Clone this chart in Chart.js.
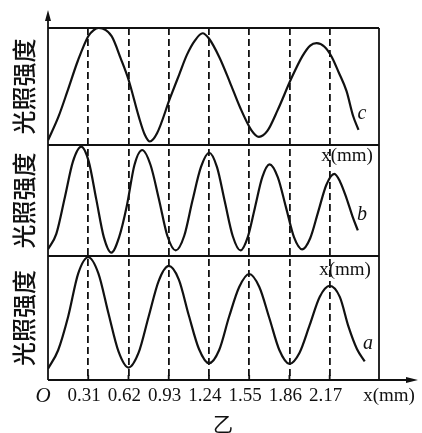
<!DOCTYPE html>
<html>
<head>
<meta charset="utf-8">
<script src="https://cdn.jsdelivr.net/npm/chart.js@4.4.0/dist/chart.umd.min.js"></script>
<style>
  html, body { margin: 0; padding: 0; background: #fff; }
  #wrap { width: 422px; height: 433px; position: relative; }
</style>
</head>
<body>
<div id="wrap"><canvas id="cv" width="422" height="433"></canvas></div>
<script>
// Positions of the marked fringe spacings along x (mm)
const tickValues = [0.31, 0.62, 0.93, 1.24, 1.55, 1.86, 2.17];
const tickLabels = ['0.31', '0.62', '0.93', '1.24', '1.55', '1.86', '2.17'];

// Curve a (bottom panel): x in mm, relative light intensity
const xA = [0, 0.078, 0.155, 0.233, 0.31, 0.388, 0.465, 0.543, 0.62, 0.698, 0.775, 0.853, 0.93,
            1.008, 1.085, 1.163, 1.24, 1.318, 1.395, 1.473, 1.55, 1.628, 1.705, 1.783, 1.86,
            1.938, 2.015, 2.093, 2.17, 2.248, 2.315, 2.38, 2.44];
const yA = [0.09, 0.24, 0.51, 0.86, 0.99, 0.86, 0.54, 0.23, 0.10, 0.22, 0.51, 0.80, 0.92,
            0.81, 0.52, 0.25, 0.135, 0.24, 0.51, 0.75, 0.855, 0.75, 0.50, 0.24, 0.13,
            0.22, 0.44, 0.67, 0.76, 0.67, 0.43, 0.25, 0.15];

// Curve b (middle panel)
const xB = [0, 0.064, 0.13, 0.192, 0.256, 0.314, 0.372, 0.43, 0.488, 0.548, 0.607, 0.666, 0.726,
            0.79, 0.855, 0.92, 0.984, 1.049, 1.113, 1.178, 1.242, 1.302, 1.362, 1.423, 1.483,
            1.539, 1.595, 1.651, 1.707, 1.77, 1.833, 1.895, 1.958, 2.02, 2.082, 2.144, 2.206,
            2.25, 2.30, 2.345, 2.387];
const yB = [0.06, 0.20, 0.53, 0.85, 0.985, 0.85, 0.51, 0.17, 0.03, 0.17, 0.45, 0.82, 0.955,
            0.82, 0.51, 0.18, 0.05, 0.18, 0.50, 0.80, 0.93, 0.80, 0.49, 0.18, 0.05,
            0.17, 0.44, 0.71, 0.825, 0.71, 0.44, 0.17, 0.06, 0.16, 0.40, 0.64, 0.74,
            0.67, 0.52, 0.36, 0.23];

// Curve c (top panel)
const xC = [0, 0.08, 0.15, 0.23, 0.31, 0.35, 0.39, 0.49, 0.56, 0.62, 0.70, 0.745, 0.785,
            0.84, 0.94, 1.01, 1.07, 1.13, 1.191, 1.24, 1.32, 1.40, 1.48, 1.565, 1.625,
            1.69, 1.77, 1.875, 1.96, 2.02, 2.069, 2.13, 2.185, 2.24, 2.30, 2.35, 2.392];
const yC = [0.04, 0.24, 0.46, 0.72, 0.93, 0.98, 1.0, 0.93, 0.74, 0.56, 0.24, 0.09, 0.03,
            0.10, 0.40, 0.60, 0.77, 0.89, 0.955, 0.91, 0.75, 0.54, 0.32, 0.13, 0.07,
            0.12, 0.30, 0.57, 0.76, 0.85, 0.87, 0.84, 0.755, 0.62, 0.46, 0.25, 0.13];

const panelNames = ['a', 'b', 'c'];
const axisTitle = '光照强度';
const unitLabel = 'x(mm)';
const originLabel = 'O';
const figureLabel = '乙';

const INK = '#111';
const pts = (xs, ys) => xs.map((x, i) => ({ x: x, y: ys[i] }));

const curveStyle = {
  borderColor: INK,
  borderWidth: 2.2,
  pointRadius: 0,
  fill: false,
  cubicInterpolationMode: 'monotone',
  xAxisID: 'x'
};

function panelAxis(weight) {
  return {
    type: 'linear',
    position: 'left',
    stack: 'panels',
    stackWeight: weight,
    min: 0,
    max: 1,
    ticks: { display: false },
    grid: { display: false, drawTicks: false },
    border: { display: false },
    title: {
      display: true,
      text: axisTitle,
      color: INK,
      font: { family: '"Noto Sans CJK SC"', size: 24, lineHeight: 1, weight: '500' },
      padding: { top: 12, bottom: 12 }
    }
  };
}

// Frame, axis arrows and the in-figure annotations
const framePlugin = {
  id: 'frame',
  afterDraw(chart) {
    const ctx = chart.ctx;
    const ca = chart.chartArea;
    const s = chart.scales;
    const line = (x1, y1, x2, y2) => { ctx.beginPath(); ctx.moveTo(x1, y1); ctx.lineTo(x2, y2); ctx.stroke(); };
    ctx.save();
    ctx.strokeStyle = INK;
    ctx.fillStyle = INK;
    ctx.lineWidth = 1.8;
    ctx.setLineDash([]);

    // panel borders
    [s.yC, s.yB, s.yA].forEach(sc => line(ca.left, sc.top, ca.right, sc.top));
    line(ca.right, ca.top, ca.right, ca.bottom);

    // vertical axis with arrow
    line(ca.left, ca.bottom, ca.left, 18);
    ctx.beginPath();
    ctx.moveTo(ca.left, 10);
    ctx.lineTo(ca.left - 3, 21);
    ctx.lineTo(ca.left + 3, 21);
    ctx.closePath();
    ctx.fill();

    // horizontal axis with arrow
    line(ca.left, ca.bottom, 410, ca.bottom);
    ctx.beginPath();
    ctx.moveTo(418, ca.bottom);
    ctx.lineTo(406, ca.bottom - 3);
    ctx.lineTo(406, ca.bottom + 3);
    ctx.closePath();
    ctx.fill();

    // small tick marks on the x axis
    tickValues.forEach(v => {
      const px = s.x.getPixelForValue(v);
      line(px, ca.bottom, px, ca.bottom - 5);
    });

    // texts
    ctx.textAlign = 'center';
    ctx.textBaseline = 'middle';
    ctx.font = 'italic 20px "Liberation Serif"';
    ctx.fillText(panelNames[2], ca.right - 17, s.yC.getPixelForValue(0.27));
    ctx.fillText(panelNames[1], ca.right - 17, s.yB.getPixelForValue(0.37));
    ctx.fillText(panelNames[0], ca.right - 11, s.yA.getPixelForValue(0.29));

    ctx.font = '19px "Liberation Serif"';
    ctx.fillText(unitLabel, 347, s.yB.top + 11);
    ctx.fillText(unitLabel, 345, s.yA.top + 14);
    ctx.fillText(unitLabel, 389, ca.bottom + 16);

    ctx.font = 'italic 21px "Liberation Serif"';
    ctx.fillText(originLabel, 43, ca.bottom + 16);

    ctx.font = '20px "Noto Sans CJK SC"';
    ctx.fillText(figureLabel, 223, 424);
    ctx.restore();
  }
};

new Chart(document.getElementById('cv'), {
  type: 'line',
  data: {
    datasets: [
      Object.assign({ label: 'a', data: pts(xA, yA), yAxisID: 'yA' }, curveStyle),
      Object.assign({ label: 'b', data: pts(xB, yB), yAxisID: 'yB' }, curveStyle),
      Object.assign({ label: 'c', data: pts(xC, yC), yAxisID: 'yC' }, curveStyle)
    ]
  },
  options: {
    responsive: false,
    animation: false,
    devicePixelRatio: 1,
    layout: { padding: { left: 0, right: 43, top: 28, bottom: 17 } },
    plugins: { legend: { display: false }, tooltip: { enabled: false } },
    scales: {
      x: {
        type: 'linear',
        position: 'bottom',
        min: 0,
        max: 2.55,
        afterBuildTicks: scale => { scale.ticks = tickValues.map(v => ({ value: v })); },
        afterFit: scale => { scale.height = 36; },
        ticks: {
          autoSkip: false,
          maxRotation: 0,
          minRotation: 0,
          color: INK,
          padding: 5,
          labelOffset: -4,
          font: { family: 'Liberation Serif', size: 19, lineHeight: 1.2 },
          callback: v => tickLabels[tickValues.indexOf(v)]
        },
        grid: { display: true, drawOnChartArea: true, drawTicks: false, color: INK, lineWidth: 1.8 },
        border: { display: false, dash: [7, 4] }
      },
      yA: panelAxis(124),
      yB: panelAxis(111),
      yC: panelAxis(117)
    }
  },
  plugins: [framePlugin]
});
</script>
</body>
</html>
